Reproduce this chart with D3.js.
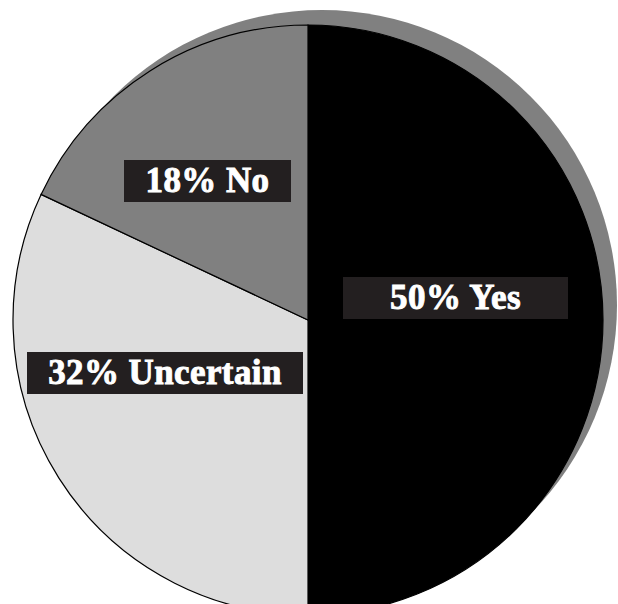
<!DOCTYPE html>
<html>
<head>
<meta charset="utf-8">
<script src="https://cdn.jsdelivr.net/npm/d3@7"></script>
<style>
  html, body { margin: 0; padding: 0; background: #fff; }
  svg { display: block; }
</style>
</head>
<body>
<svg id="chart" width="618" height="604"></svg>
<script>
// Data
const categories = ["Yes", "Uncertain", "No"];
const values = [50, 32, 18];
const labels = ["50% Yes", "32% Uncertain", "18% No"];

// Styling / layout (not data)
const sliceColors = ["#000000", "#dddddd", "#808080"];
const labelCenters = [[455.5, 298], [165, 373], [207.5, 181]];
const labelBoxWidths = [225, 276, 167];

const W = 618, H = 604;
const cx = 308, cy = 320, R = 295;
const svg = d3.select("#chart");

// drop shadow
svg.append("circle")
  .attr("cx", cx + 14).attr("cy", cy - 15).attr("r", R)
  .attr("fill", "#808080");

const data = categories.map((c, i) => ({
  cat: c, value: values[i], label: labels[i], color: sliceColors[i],
  center: labelCenters[i], boxW: labelBoxWidths[i]
}));

const pie = d3.pie().sort(null).value(d => d.value).startAngle(0).endAngle(2 * Math.PI);
const arc = d3.arc().innerRadius(0).outerRadius(R);

const g = svg.append("g").attr("transform", `translate(${cx},${cy})`);
g.selectAll("path.slice")
  .data(pie(data))
  .join("path")
  .attr("class", "slice")
  .attr("d", arc)
  .attr("fill", d => d.data.color)
  .attr("stroke", "#000")
  .attr("stroke-width", 1.2);

// labels
const lg = svg.append("g");
data.forEach(d => {
  const grp = lg.append("g");
  grp.append("rect")
    .attr("x", d.center[0] - d.boxW / 2)
    .attr("y", d.center[1] - 21)
    .attr("width", d.boxW)
    .attr("height", 42)
    .attr("fill", "#231f20");
  grp.append("text")
    .attr("x", d.center[0])
    .attr("y", d.center[1] + 11)
    .attr("text-anchor", "middle")
    .attr("font-family", "'Liberation Serif', 'Times New Roman', serif")
    .attr("font-weight", "bold")
    .attr("font-size", 35)
    .attr("fill", "#ffffff")
    .attr("stroke", "#ffffff")
    .attr("stroke-width", 0.9)
    .attr("letter-spacing", 0.4)
    .text(d.label);
});
</script>
</body>
</html>
